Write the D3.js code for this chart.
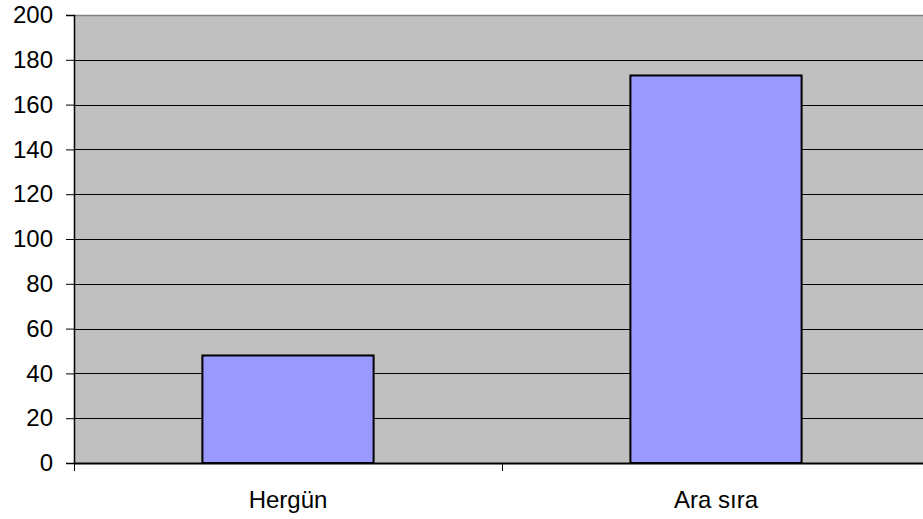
<!DOCTYPE html>
<html>
<head>
<meta charset="utf-8">
<script src="https://cdn.jsdelivr.net/npm/d3@7/dist/d3.min.js"></script>
<style>
  html, body { margin: 0; padding: 0; background: #fff; }
  svg { display: block; }
</style>
</head>
<body>
<svg id="chart" width="923" height="519"></svg>
<script>
// Categories and counts
const categories = ["Hergün", "Ara sıra"];
const values = [48, 173];
const yTicks = [0, 20, 40, 60, 80, 100, 120, 140, 160, 180, 200];

(function () {
  const svg = d3.select("#chart");
  const plotLeft = 74, plotTop = 15, plotBottom = 463, plotRight = 930;
  const font = "'Liberation Sans', Arial, sans-serif";

  const x = d3.scaleBand().domain(categories).range([plotLeft, plotRight])
    .paddingInner(0.6).paddingOuter(0.3);
  const xBand = d3.scaleBand().domain(categories).range([plotLeft, plotRight]);
  const y = d3.scaleLinear().domain([0, 200]).range([plotBottom, plotTop]);

  // Plot background
  svg.append("rect")
    .attr("x", plotLeft).attr("y", plotTop)
    .attr("width", plotRight - plotLeft).attr("height", plotBottom - plotTop)
    .attr("fill", "#c0c0c0");

  // Top border
  svg.append("line")
    .attr("x1", plotLeft).attr("x2", plotRight)
    .attr("y1", plotTop + 0.5).attr("y2", plotTop + 0.5)
    .attr("stroke", "#808080").attr("stroke-width", 1.5);

  // Horizontal gridlines
  svg.append("g").selectAll("line")
    .data(yTicks.filter(d => d > 0 && d < 200))
    .join("line")
    .attr("x1", plotLeft).attr("x2", plotRight)
    .attr("y1", d => Math.round(y(d)) + 0.5).attr("y2", d => Math.round(y(d)) + 0.5)
    .attr("stroke", "#000").attr("stroke-width", 1);

  // Bars
  svg.append("g").selectAll("rect")
    .data(values)
    .join("rect")
    .attr("x", (d, i) => x(categories[i]))
    .attr("width", x.bandwidth())
    .attr("y", d => y(d))
    .attr("height", d => y(0) - y(d))
    .attr("fill", "#9999ff")
    .attr("stroke", "#000").attr("stroke-width", 2);

  // Y axis
  const yAxis = d3.axisLeft(y).tickValues(yTicks).tickSize(8).tickPadding(13);
  const gy = svg.append("g").attr("transform", `translate(${plotLeft},0)`).call(yAxis);
  gy.attr("font-size", null).attr("font-family", null);
  gy.select(".domain").attr("stroke", "#000").attr("stroke-width", 1.5);
  gy.selectAll(".tick line").attr("stroke", "#000");
  gy.selectAll(".tick text")
    .attr("font-family", font)
    .attr("font-size", 24).attr("fill", "#000");

  // X axis: ticks at band boundaries, labels at band centres
  const gx = svg.append("g").attr("transform", `translate(0,${plotBottom})`);
  gx.append("line")
    .attr("x1", plotLeft).attr("x2", plotRight)
    .attr("y1", 0.5).attr("y2", 0.5)
    .attr("stroke", "#000").attr("stroke-width", 2);
  const boundaries = categories.map(c => xBand(c)).concat([plotRight]);
  gx.selectAll("line.tk").data(boundaries).join("line")
    .attr("class", "tk")
    .attr("x1", d => Math.round(d) + 0.5).attr("x2", d => Math.round(d) + 0.5)
    .attr("y1", 0).attr("y2", 8)
    .attr("stroke", "#000");
  gx.selectAll("text").data(categories).join("text")
    .attr("x", d => xBand(d) + xBand.bandwidth() / 2)
    .attr("y", 45)
    .attr("text-anchor", "middle")
    .attr("font-family", font)
    .attr("font-size", 24).attr("fill", "#000")
    .text(d => d);
})();
</script>
</body>
</html>
